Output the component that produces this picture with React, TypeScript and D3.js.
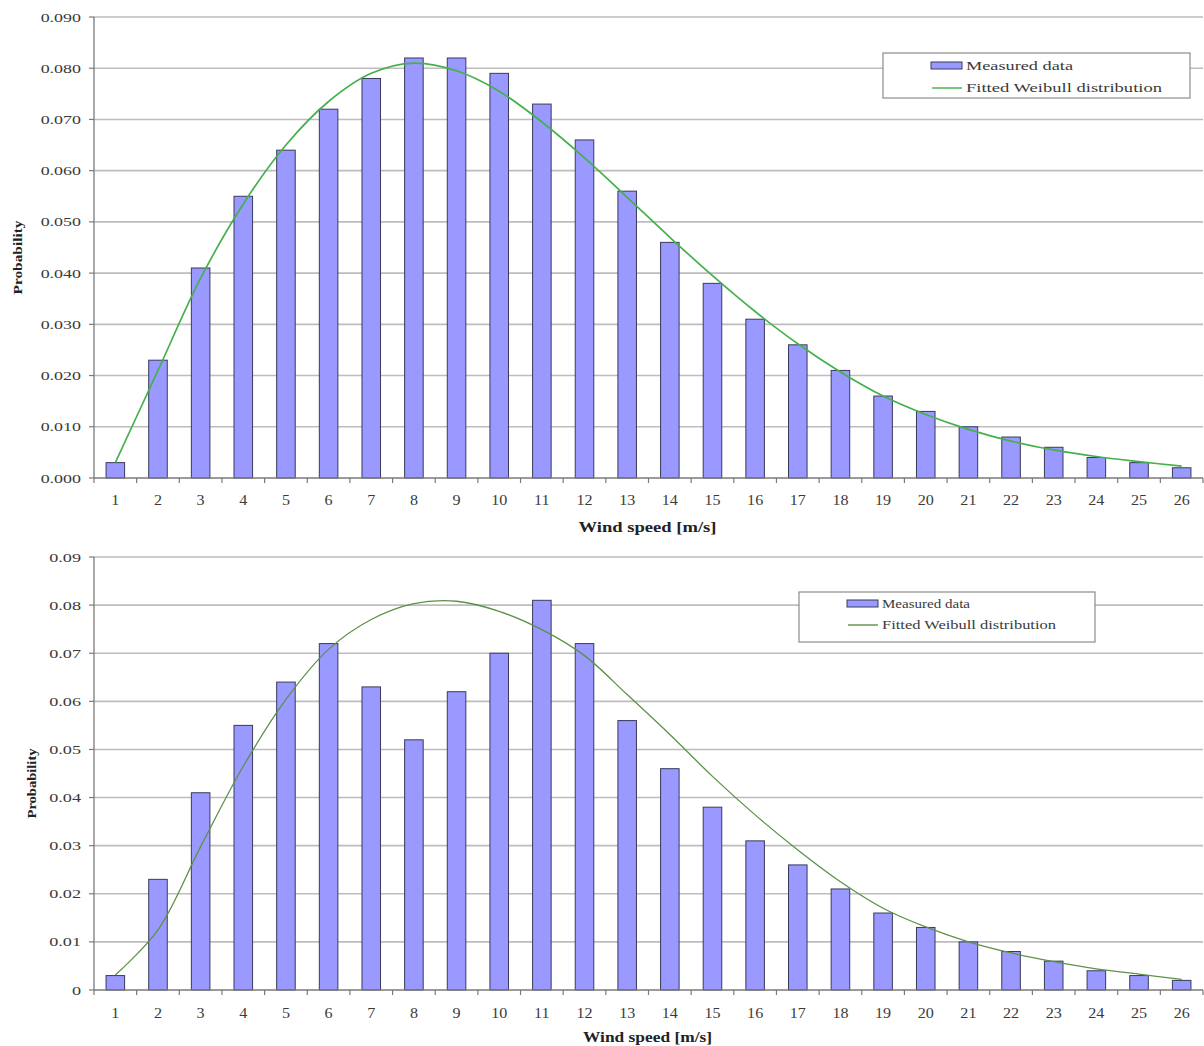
import React from "react";
import * as d3 from "d3";

// Wind speed bins (m/s)
const windSpeeds = [1, 2, 3, 4, 5, 6, 7, 8, 9, 10, 11, 12, 13, 14, 15, 16, 17, 18, 19, 20, 21, 22, 23, 24, 25, 26];

// Upper panel: measured probabilities and fitted Weibull curve
const measuredUpper = [0.003, 0.023, 0.041, 0.055, 0.064, 0.072, 0.078, 0.082, 0.082, 0.079, 0.073, 0.066, 0.056, 0.046, 0.038, 0.031, 0.026, 0.021, 0.016, 0.013, 0.010, 0.008, 0.006, 0.004, 0.003, 0.002];
const weibullUpper = [0.003, 0.021, 0.039, 0.0535, 0.065, 0.0735, 0.079, 0.081, 0.0795, 0.0755, 0.0695, 0.0625, 0.0548, 0.047, 0.0395, 0.0325, 0.0262, 0.0207, 0.016, 0.0124, 0.0095, 0.0072, 0.0055, 0.0042, 0.0032, 0.0023];

// Lower panel: measured probabilities and fitted Weibull curve
const measuredLower = [0.003, 0.023, 0.041, 0.055, 0.064, 0.072, 0.063, 0.052, 0.062, 0.070, 0.081, 0.072, 0.056, 0.046, 0.038, 0.031, 0.026, 0.021, 0.016, 0.013, 0.010, 0.008, 0.006, 0.004, 0.003, 0.002];
const weibullLower = [0.0031, 0.0125, 0.0298, 0.0465, 0.0604, 0.0708, 0.077, 0.0803, 0.0808, 0.0787, 0.0749, 0.0695, 0.0614, 0.0531, 0.0444, 0.0364, 0.0291, 0.0225, 0.017, 0.0131, 0.010, 0.0077, 0.0059, 0.0044, 0.0033, 0.0022];

// Axis ticks
const yTickValues = [0, 0.01, 0.02, 0.03, 0.04, 0.05, 0.06, 0.07, 0.08, 0.09];
const yTickLabelsUpper = ["0.000", "0.010", "0.020", "0.030", "0.040", "0.050", "0.060", "0.070", "0.080", "0.090"];
const yTickLabelsLower = ["0", "0.01", "0.02", "0.03", "0.04", "0.05", "0.06", "0.07", "0.08", "0.09"];

const legendLabels = ["Measured data", "Fitted Weibull distribution"];
const xAxisTitle = "Wind speed [m/s]";
const yAxisTitle = "Probability";

const FONT = "'Liberation Serif', 'Times New Roman', serif";
const BAR_FILL = "#9999ff";
const BAR_STROKE = "#3a3a5c";
const GRID = "#bdbdbd";
const AXIS = "#7a7a7a";
const TEXT = "#3a3a3a";

type PanelProps = {
  measured: number[];
  fitted: number[];
  yLabels: string[];
  yBottom: number;
  yTop: number;
  xLabelY: number;
  xTitleY: number;
  xTitleLen: number;
  yTitleX: number;
  yTitleLen: number;
  yTickScale: number;
  curveColor: string;
  curveWidth: number;
  legend: { x: number; y: number; w: number; h: number; row1: number; row2: number; swX: number; txtX: number; len1: number; len2: number; fs: number };
};

const LEFT = 94;
const RIGHT = 1203;

function Panel(p: PanelProps) {
  const x = d3.scaleBand<number>().domain(windSpeeds).range([LEFT, RIGHT]).paddingInner(0.565).paddingOuter(0.2825);
  const xc = d3.scalePoint<number>().domain(windSpeeds).range([LEFT, RIGHT]).padding(0.5);
  const y = d3.scaleLinear().domain([0, 0.09]).range([p.yBottom, p.yTop]);
  const step = (RIGHT - LEFT) / windSpeeds.length;

  const line = d3
    .line<number>()
    .x((_, i) => xc(windSpeeds[i]) as number)
    .y((d) => y(d))
    .curve(d3.curveCatmullRom.alpha(0.5));

  const lg = p.legend;
  return (
    <g>
      {/* horizontal gridlines */}
      {yTickValues.slice(1).map((v) => (
        <line key={"g" + v} x1={LEFT} x2={RIGHT} y1={y(v)} y2={y(v)} stroke={GRID} strokeWidth={1.6} />
      ))}
      {/* y axis with ticks and labels */}
      <line x1={LEFT} x2={LEFT} y1={p.yTop} y2={p.yBottom} stroke={AXIS} strokeWidth={1.3} />
      {yTickValues.map((v, i) => (
        <g key={"yt" + v}>
          <line x1={LEFT - 5} x2={LEFT} y1={y(v)} y2={y(v)} stroke={AXIS} strokeWidth={1.2} />
          <text
            transform={`translate(${LEFT - 13},${y(v) + 4.5}) scale(${p.yTickScale},1)`}
            textAnchor="end"
            fontFamily={FONT}
            fontSize={13}
            fill={TEXT}
          >
            {p.yLabels[i]}
          </text>
        </g>
      ))}
      {/* bars */}
      {p.measured.map((v, i) => (
        <rect
          key={"b" + i}
          x={x(windSpeeds[i])}
          y={y(v)}
          width={x.bandwidth()}
          height={p.yBottom - y(v)}
          fill={BAR_FILL}
          stroke={BAR_STROKE}
          strokeWidth={1}
        />
      ))}
      {/* x axis */}
      <line x1={LEFT} x2={RIGHT} y1={p.yBottom} y2={p.yBottom} stroke={AXIS} strokeWidth={1.3} />
      {d3.range(windSpeeds.length + 1).map((i) => (
        <line key={"xt" + i} x1={LEFT + i * step} x2={LEFT + i * step} y1={p.yBottom} y2={p.yBottom + 5} stroke={AXIS} strokeWidth={1.2} />
      ))}
      {windSpeeds.map((w) => (
        <text
          key={"xl" + w}
          transform={`translate(${xc(w)},${p.xLabelY}) scale(1.15,1)`}
          textAnchor="middle"
          fontFamily={FONT}
          fontSize={14}
          fill={TEXT}
        >
          {w}
        </text>
      ))}
      {/* fitted curve */}
      <path d={line(p.fitted) || ""} fill="none" stroke={p.curveColor} strokeWidth={p.curveWidth} />
      {/* axis titles */}
      <text
        x={(LEFT + RIGHT) / 2 - 1}
        y={p.xTitleY}
        textAnchor="middle"
        fontFamily={FONT}
        fontWeight="bold"
        fontSize={14}
        fill="#222"
        textLength={p.xTitleLen}
        lengthAdjust="spacingAndGlyphs"
      >
        {xAxisTitle}
      </text>
      <text
        transform={`translate(${p.yTitleX},${(p.yTop + p.yBottom) / 2 + 10}) rotate(-90)`}
        textAnchor="middle"
        fontFamily={FONT}
        fontWeight="bold"
        fontSize={13}
        fill="#222"
        textLength={p.yTitleLen}
        lengthAdjust="spacingAndGlyphs"
      >
        {yAxisTitle}
      </text>
      {/* legend */}
      <rect x={lg.x} y={lg.y} width={lg.w} height={lg.h} fill="#fff" stroke="#8c8c8c" strokeWidth={1.2} />
      <rect x={lg.swX} y={lg.row1 - 3.5} width={31} height={7} fill={BAR_FILL} stroke={BAR_STROKE} strokeWidth={1} />
      <text
        x={lg.txtX}
        y={lg.row1 + 4}
        fontFamily={FONT}
        fontSize={lg.fs}
        fill={TEXT}
        textLength={lg.len1}
        lengthAdjust="spacingAndGlyphs"
      >
        {legendLabels[0]}
      </text>
      <line x1={lg.swX + 1} x2={lg.swX + 31} y1={lg.row2} y2={lg.row2} stroke={p.curveColor} strokeWidth={1.4} />
      <text
        x={lg.txtX}
        y={lg.row2 + 4}
        fontFamily={FONT}
        fontSize={lg.fs}
        fill={TEXT}
        textLength={lg.len2}
        lengthAdjust="spacingAndGlyphs"
      >
        {legendLabels[1]}
      </text>
    </g>
  );
}

export default function App() {
  return (
    <svg
      width={1204}
      height={1046}
      viewBox="0 0 1204 1046"
      style={{ position: "absolute", left: 0, top: 0, background: "#fff" }}
    >
      <rect width={1204} height={1046} fill="#fff" />
      <Panel
        measured={measuredUpper}
        fitted={weibullUpper}
        yLabels={yTickLabelsUpper}
        yBottom={478}
        yTop={17}
        xLabelY={505}
        xTitleY={532}
        xTitleLen={138}
        yTitleX={22}
        yTitleLen={74}
        yTickScale={1.38}
        curveColor="#45b04c"
        curveWidth={1.7}
        legend={{ x: 883, y: 53, w: 307, h: 45, row1: 65.5, row2: 88, swX: 931, txtX: 966, len1: 107, len2: 196, fs: 13 }}
      />
      <Panel
        measured={measuredLower}
        fitted={weibullLower}
        yLabels={yTickLabelsLower}
        yBottom={990}
        yTop={557}
        xLabelY={1018}
        xTitleY={1042}
        xTitleLen={129}
        yTitleX={36}
        yTitleLen={70}
        yTickScale={1.4}
        curveColor="#5e9148"
        curveWidth={1.3}
        legend={{ x: 799, y: 592, w: 296, h: 50, row1: 603.5, row2: 625, swX: 847, txtX: 882, len1: 88, len2: 174, fs: 12 }}
      />
    </svg>
  );
}
